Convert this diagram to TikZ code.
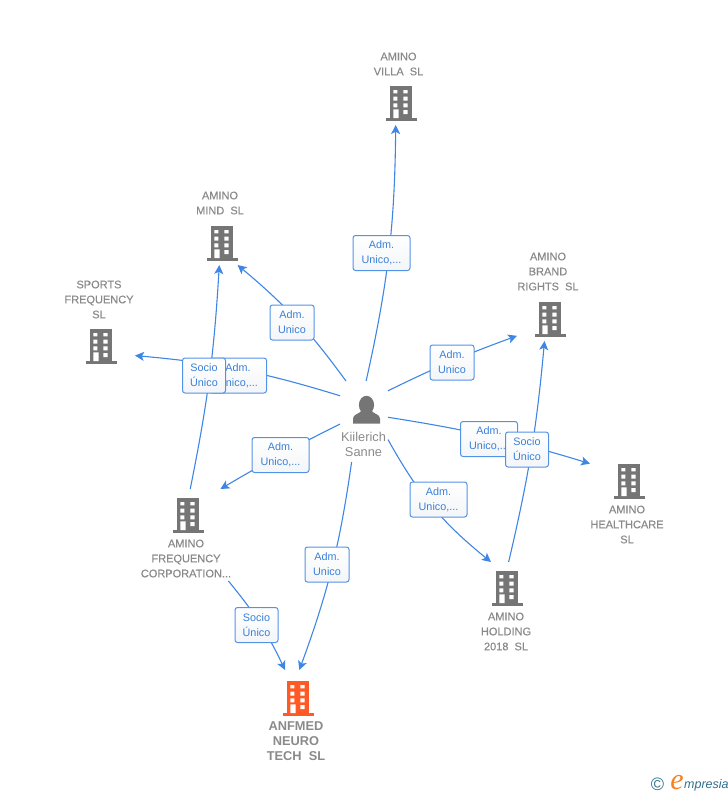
\documentclass[tikz,border=0pt]{standalone}
\usepackage{fontspec}
\setmainfont{Liberation Sans}
\newfontfamily\capfont[FakeBold=0.35]{Liberation Sans}
\newfontfamily\logoefont{Liberation Serif}
\usetikzlibrary{arrows.meta,shadings}
\definecolor{linkblue}{HTML}{3F86E4}
\definecolor{textblue}{HTML}{3A80D8}
\definecolor{icongray}{HTML}{757575}
\definecolor{labelgray}{HTML}{8A8A8A}
\definecolor{hot}{HTML}{FF5A26}
\definecolor{logoblue}{HTML}{2F6F8C}
\definecolor{logoorange}{HTML}{F58220}
\definecolor{tagshade}{HTML}{F3F5F8}
\newcommand{\tagtext}[2]{\raisebox{-1pt}{#1}\\\raisebox{-1pt}{#2}}
\tikzset{
  x=1pt,y=-1pt,
  bldgicon/.pic={
    \fill[pic actions] (-11,-16) rectangle (11,16);
    \fill[pic actions] (-15.5,16) rectangle (15.5,18.6);
    \fill[white] (-7.7,-12) rectangle (-3.7,-8.7) (2.3,-12) rectangle (6.7,-8.7)
      (-7.7,-5.3) rectangle (-3.7,-1.3) (2.3,-5.3) rectangle (6.7,-1.3)
      (-7.7,1.3) rectangle (-3.7,5.3) (2.3,1.3) rectangle (6.7,5.3)
      (2.3,8) rectangle (6.7,12) (-7.7,7.3) rectangle (-2.3,16);
  },
  area/.style={rectangle,inner sep=0pt,outer sep=0pt},
  cap text/.style={align=center,inner sep=0pt,text=labelgray,font=\capfont\fontsize{11}{15}\selectfont},
  hot text/.style={align=center,inner sep=0pt,text=labelgray,font=\fontsize{12.8}{15}\selectfont\bfseries},
  link/.style={draw=linkblue,line width=1.1pt,-{Stealth[length=9pt,width=9pt,inset=2.2pt]}},
  tag/.style={rectangle,rounded corners=2.5pt,draw=linkblue!90!white,line width=1pt,top color=white,bottom color=tagshade,
    text=textblue,align=center,inner sep=0pt,minimum height=35pt,font=\fontsize{10.8}{15}\selectfont},
  wide tag/.style={tag,minimum width=57pt},
  narrow tag/.style={tag,minimum width=44pt},
}
\begin{document}
\begin{tikzpicture}
\useasboundingbox (0,0) rectangle (728,795);
% icons
\pic[fill=icongray] at (401,102) {bldgicon};
\pic[fill=icongray] at (222,242) {bldgicon};
\pic[fill=icongray] at (101,345) {bldgicon};
\pic[fill=icongray] at (188,514) {bldgicon};
\pic[fill=hot] at (298,697) {bldgicon};
\pic[fill=icongray] at (507,587) {bldgicon};
\pic[fill=icongray] at (629,480) {bldgicon};
\pic[fill=icongray] at (550,318) {bldgicon};
% person
\fill[icongray] (366.5,405) ellipse [x radius=7.6,y radius=9.2];
\fill[icongray] (353,423.5) -- (353,418.5) .. controls (353,414) and (360,414) .. (362,410) -- (371,410) .. controls (373,414) and (380,414) .. (380,418.5) -- (380,423.5) -- cycle;
% text
\node[cap text] (villaT) at (398.5,64) {AMINO\\VILLA\ \ SL};
\node[cap text] (mindT) at (220,203) {AMINO\\MIND\ \ SL};
\node[cap text] (sportsT) at (99,299.5) {SPORTS\\FREQUENCY\\SL};
\node[cap text] (freqT) at (186,558.5) {AMINO\\FREQUENCY\\CORPORATION...};
\node[cap text] (holdT) at (506,631.5) {AMINO\\HOLDING\\2018\ \ SL};
\node[cap text] (healthT) at (627,524.5) {AMINO\\HEALTHCARE\\SL};
\node[cap text] (brandT) at (548,271.5) {AMINO\\BRAND\\RIGHTS\ \ SL};
\node[hot text] (anfT) at (296,741) {ANFMED\\NEURO\\TECH\ \ SL};
\node[cap text,font=\fontsize{12.8}{15}\selectfont] (personT) at (363.5,444.5) {Kiilerich\\Sanne};
% node areas
\node[area,minimum width=48pt,minimum height=81pt] (person) at (364,421.5) {};
\node[area,minimum width=58pt,minimum height=75pt] (villa) at (399,87.5) {};
\node[area,minimum width=54pt,minimum height=77pt] (mind) at (222,226.5) {};
\node[area,minimum width=72pt,minimum height=84pt] (sports) at (99,322) {};
\node[area,minimum width=96pt,minimum height=92pt] (freq) at (187,535) {};
\node[area,minimum width=68pt,minimum height=95pt] (anf) at (296,717.5) {};
\node[area,minimum width=54pt,minimum height=93pt] (hold) at (507,608.5) {};
\node[area,minimum width=78pt,minimum height=88pt] (health) at (629,504) {};
\node[area,minimum width=63pt,minimum height=91pt] (brand) at (548.5,295.5) {};
% connectors
\draw[link] (person.87) to[bend right=6] (villa.265.4);
\draw[link] (person.114) to[bend right=7] (mind.-68.7);
\draw[link] (person.133.3) to[bend right=6] (sports.-43.4);
\draw[link] (person.186) to[bend right=2] (freq.54.3);
\draw[link] (person.253.5) to[bend left=6] (anf.86.4);
\draw[link] (person.-37.6) to[bend right=11] (hold.109);
\draw[link] (person.10.6) to[bend left=4] (health.134.3);
\draw[link] (person.52.7) to[bend left=3] (brand.232.1);
\draw[link] (freq.86.3) to[bend right=4] (mind.-94.5);
\draw[link] (freq.-48.3) to[bend left=7] (anf.103);
\draw[link] (hold.88.8) to[bend right=4] (brand.265.6);
% tags
\node[wide tag] (t1) at (381.5,253) {\tagtext{Adm.}{Unico,...}};
\node[narrow tag] (t2) at (292,322.5) {\tagtext{Adm.}{Unico}};
\node[wide tag] (t3) at (238,375.5) {\tagtext{Adm.}{Unico,...}};
\node[wide tag] (t4) at (280.5,455) {\tagtext{Adm.}{Unico,...}};
\node[narrow tag] (t5) at (327,564.5) {\tagtext{Adm.}{Unico}};
\node[wide tag] (t6) at (438.5,499.5) {\tagtext{Adm.}{Unico,...}};
\node[wide tag] (t7) at (489,439) {\tagtext{Adm.}{Unico,...}};
\node[narrow tag] (t8) at (452,362.5) {\tagtext{Adm.}{Unico}};
\node[narrow tag,minimum width=43pt] (t9) at (204,375.5) {\tagtext{Socio}{Único}};
\node[narrow tag,minimum width=43pt] (t10) at (527,449.5) {\tagtext{Socio}{Único}};
\node[narrow tag,minimum width=43pt] (t11) at (256.5,625) {\tagtext{Socio}{Único}};
% logo
\node[inner sep=0pt,text=logoblue,font=\fontsize{18}{18}\selectfont] (logoC) at (657.5,784.5) {©};
\node[inner sep=0pt,text=logoorange,font=\logoefont\fontsize{30}{30}\selectfont\itshape] (logoE) at (677,783) {e};
\node[inner sep=0pt,anchor=base west,text=logoblue,font=\fontsize{12.5}{14}\selectfont\itshape] (logoW) at (684,788) {mpresia};
\end{tikzpicture}
\end{document}
